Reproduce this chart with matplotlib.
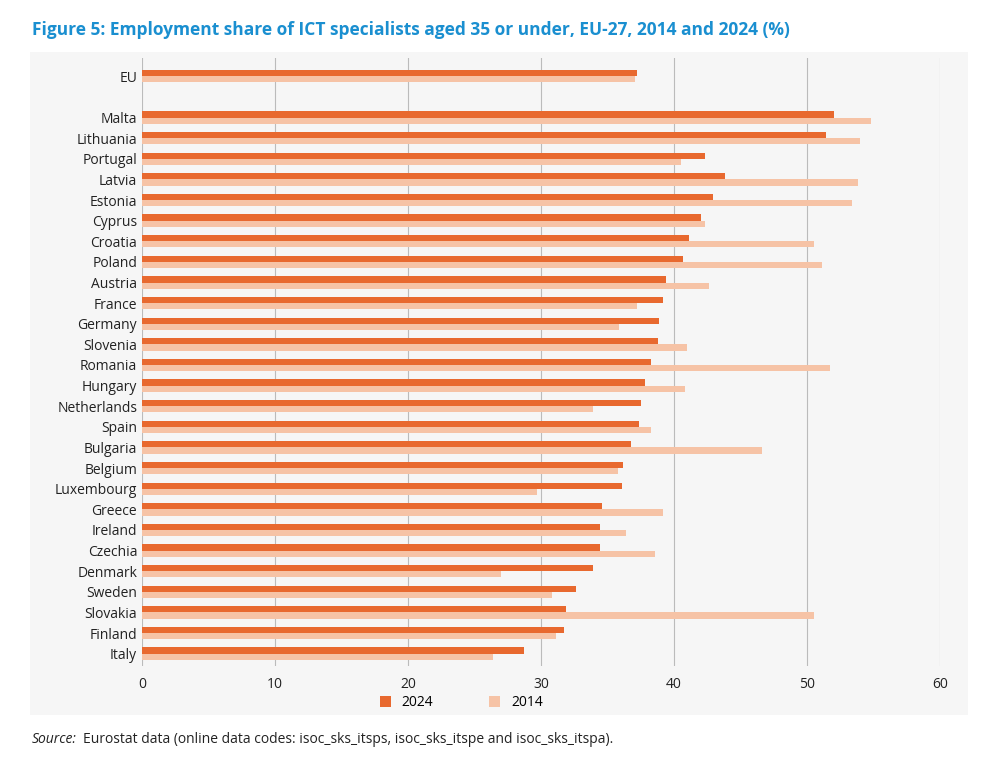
import matplotlib.pyplot as plt
import numpy as np

countries = ["EU", "Malta", "Lithuania", "Portugal", "Latvia", "Estonia", "Cyprus", "Croatia",
             "Poland", "Austria", "France", "Germany", "Slovenia", "Romania", "Hungary",
             "Netherlands", "Spain", "Bulgaria", "Belgium", "Luxembourg", "Greece", "Ireland",
             "Czechia", "Denmark", "Sweden", "Slovakia", "Finland", "Italy"]
v2024 = [37.2, 52.0, 51.4, 42.3, 43.8, 42.9, 42.0, 41.1, 40.7, 39.4, 39.2, 38.9, 38.8, 38.3,
         37.8, 37.5, 37.4, 36.8, 36.2, 36.1, 34.6, 34.4, 34.4, 33.9, 32.6, 31.9, 31.7, 28.7]
v2014 = [37.1, 54.8, 54.0, 40.5, 53.8, 53.4, 42.3, 50.5, 51.1, 42.6, 37.2, 35.9, 41.0, 51.7,
         40.8, 33.9, 38.3, 46.6, 35.8, 29.7, 39.2, 36.4, 38.6, 27.0, 30.8, 50.5, 31.1, 26.4]

dark = "#E8692F"
light = "#F6C3A6"

plt.rcParams['font.family'] = ['Open Sans', 'DejaVu Sans']
fig = plt.figure(figsize=(10.03, 7.7), dpi=100)
bg = fig.add_axes([0.030, 0.072, 0.935, 0.860])
bg.set_facecolor("#F6F6F6")
bg.set_xticks([]); bg.set_yticks([])
for s in bg.spines.values():
    s.set_visible(False)

ax = fig.add_axes([0.1416, 0.135, 0.7956, 0.79])
ax.set_facecolor("none")

y = np.array([0] + list(range(2, len(countries) + 1)), dtype=float)
h = 0.3
ax.barh(y - h / 2, v2024, height=h, color=dark, label="2024", zorder=2)
ax.barh(y + h / 2, v2014, height=h, color=light, label="2014", zorder=2)

ax.set_yticks(y)
ax.set_yticklabels(countries, fontsize=10)
ax.set_ylim(len(countries) + 0.6, -0.9)
ax.set_xlim(0, 60)
ax.set_xticks(range(0, 61, 10))
ax.tick_params(axis='both', length=0, labelsize=10, colors="#222222")
ax.tick_params(axis='x', pad=8)
ax.grid(axis='x', color="#BBBBBB", linewidth=0.8, zorder=1)
for s in ax.spines.values():
    s.set_visible(False)

ax.legend(loc="center", bbox_to_anchor=(0.4, -0.06), ncol=2, frameon=False,
          fontsize=10, handlelength=0.8, handleheight=0.8, columnspacing=4)

fig.text(0.032, 0.955, "Figure 5: Employment share of ICT specialists aged 35 or under, EU-27, 2014 and 2024 (%)",
         color="#1A8FD0", fontsize=12.5, fontweight="bold")
fig.text(0.032, 0.035, "Source:", fontsize=10, color="#222222", style="italic")
fig.text(0.083, 0.035, "Eurostat data (online data codes: isoc_sks_itsps, isoc_sks_itspe and isoc_sks_itspa).",
         fontsize=10, color="#222222")

fig.savefig("out.png", dpi=100)
